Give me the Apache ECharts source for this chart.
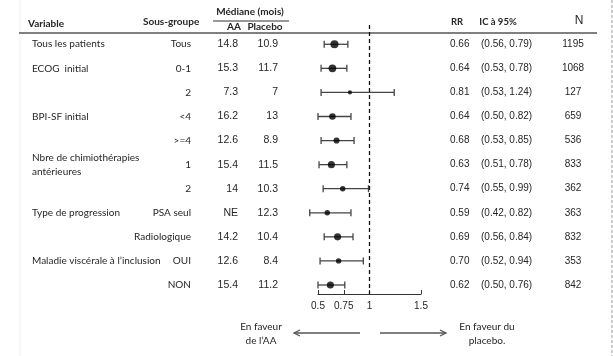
<!DOCTYPE html>
<html><head><meta charset="utf-8">
<script src="https://cdn.jsdelivr.net/npm/echarts@6/dist/echarts.min.js"></script>
<style>html,body{margin:0;padding:0;background:#fff}#c{width:613px;height:356px}</style>
</head><body><div id="c"></div>
<script>
const variables = ["Tous les patients","ECOG  initial","","BPI-SF initial","","Nbre de chimiothérapies\nantérieures","","Type de progression","","Maladie viscérale à l\u2019inclusion",""];
const subgroups = ["Tous","0-1","2","<4",">=4","1","2","PSA seul","Radiologique","OUI","NON"];
const medAA = ["14.8","15.3","7.3","16.2","12.6","15.4","14","NE","14.2","12.6","15.4"];
const medPlacebo = ["10.9","11.7","7","13","8.9","11.5","10.3","12.3","10.4","8.4","11.2"];
const rr = [0.66,0.64,0.81,0.64,0.68,0.63,0.74,0.59,0.69,0.70,0.62];
const ciLow = [0.56,0.53,0.53,0.50,0.53,0.51,0.55,0.42,0.56,0.52,0.50];
const ciHigh = [0.79,0.78,1.24,0.82,0.85,0.78,0.99,0.82,0.84,0.94,0.76];
const nPatients = [1195,1068,127,659,536,833,362,363,832,353,842];
const tickLabels = [0.5,0.75,1,1.5];

const chart = echarts.init(document.getElementById('c'), null, {renderer:'canvas'});
const HF = 'Lato, "Open Sans", sans-serif';
const NF = '"Liberation Sans", Arial, sans-serif';
const TXT = '#262626';

chart.setOption({
  animation:false,
  grid:{left:318, width:103, top:25, height:269},
  xAxis:{type:'value', min:0.5, max:1.5,
    axisLine:{show:true, onZero:false, lineStyle:{color:'#333', width:1}},
    axisTick:{show:true, inside:true, length:4, customValues:tickLabels, lineStyle:{color:'#333'}},
    axisLabel:{customValues:tickLabels, margin:7, fontSize:10, fontFamily:NF, color:TXT, formatter:v=>String(v)},
    splitLine:{show:false}},
  yAxis:{type:'value', inverse:true, min:-0.8, max:10.374, show:false},
  series:[
    {type:'custom', clip:false, silent:true,
     encode:{x:[0,1], y:2},
     data: rr.map((v,i)=>[ciLow[i], ciHigh[i], i]),
     renderItem:(params, api)=>{
       const a = api.coord([api.value(0), api.value(2)]);
       const b = api.coord([api.value(1), api.value(2)]);
       const st = {stroke:'#444', lineWidth:1.3, fill:null};
       return {type:'group', children:[
         {type:'polyline', shape:{points:[[a[0],a[1]],[b[0],b[1]]]}, style:st},
         {type:'polyline', shape:{points:[[a[0],a[1]-3.5],[a[0],a[1]+3.5]]}, style:st},
         {type:'polyline', shape:{points:[[b[0],b[1]-3.5],[b[0],b[1]+3.5]]}, style:st}
       ]};
     }},
    {type:'scatter', clip:false, silent:true,
     data: rr.map((v,i)=>[v, i, nPatients[i]]),
     symbol:'circle',
     symbolSize:(d)=>2.2 + 0.17*Math.sqrt(d[2]),
     itemStyle:{color:'#000'}},
    {type:'line', silent:true, symbol:'none', data:[],
     markLine:{silent:true, symbol:'none', label:{show:false},
       lineStyle:{color:'#111', type:[4,3], width:1.3},
       data:[{xAxis:1}]}}
  ]
});

const g = [];
function txt(x, y, s, o){
  g.push({type:'text', x:x, y:y, silent:true, style:Object.assign({text:s, fill:TXT, font:'10px '+NF, textAlign:'left', textVerticalAlign:'middle'}, o||{})});
}
function line(x1,y1,x2,y2,st){
  g.push({type:'line', silent:true, shape:{x1,y1,x2,y2}, style:Object.assign({stroke:'#333', lineWidth:1}, st||{})});
}
// borders
line(20,0,20,356,{stroke:'#eeeeee'});
line(612,0,612,356,{stroke:'#999', lineDash:[3,2]});
// header
txt(28,24,'Variable',{font:'bold 10px '+HF});
txt(143,22,'Sous-groupe',{font:'bold 10px '+HF});
txt(250,12,'Médiane (mois)',{font:'bold 10px '+HF, textAlign:'center'});
line(213,21,289,21,{stroke:'#333', lineWidth:1});
txt(234,27,'AA',{font:'bold 10px '+HF, textAlign:'center'});
txt(265,27,'Placebo',{font:'bold 10px '+HF, textAlign:'center'});
txt(457,22,'RR',{font:'bold 9.5px '+HF, textAlign:'center'});
txt(498,22,'IC à 95%',{font:'bold 9.5px '+HF, textAlign:'center'});
txt(579,21,'N',{font:'12px '+NF, textAlign:'center'});
line(19,33,597,33,{stroke:'#808080', lineWidth:2});

rr.forEach((v,i)=>{
  const y = chart.convertToPixel({yAxisIndex:0}, i);
  if (variables[i]) txt(32,y,variables[i],{font:'10px '+HF, lineHeight:14});
  txt(191,y,subgroups[i],{font:'10px '+HF, textAlign:'right'});
  txt(238,y,medAA[i],{font:'10.5px '+NF, textAlign:'right'});
  txt(278,y,medPlacebo[i],{font:'10.5px '+NF, textAlign:'right'});
  txt(450,y,v.toFixed(2),{font:'10px '+NF});
  txt(481,y,'('+ciLow[i].toFixed(2)+', '+ciHigh[i].toFixed(2)+')',{font:'10px '+NF});
  txt(573,y,String(nPatients[i]),{font:'10px '+NF, textAlign:'center'});
});

// bottom annotations
txt(261,334,'En faveur\nde l\u2019AA',{font:'10px '+HF, textAlign:'center', lineHeight:14});
txt(487,334,'En faveur du\nplacebo.',{font:'10px '+HF, textAlign:'center', lineHeight:14});
line(294,333,360,333,{stroke:'#555', lineWidth:1.3});
g.push({type:'polyline', silent:true, shape:{points:[[300,330],[294,333],[300,336]]}, style:{stroke:'#555', fill:null, lineWidth:1.3}});
line(380,333,446,333,{stroke:'#555', lineWidth:1.3});
g.push({type:'polyline', silent:true, shape:{points:[[440,330],[446,333],[440,336]]}, style:{stroke:'#555', fill:null, lineWidth:1.3}});

chart.setOption({graphic:g});
</script></body></html>
